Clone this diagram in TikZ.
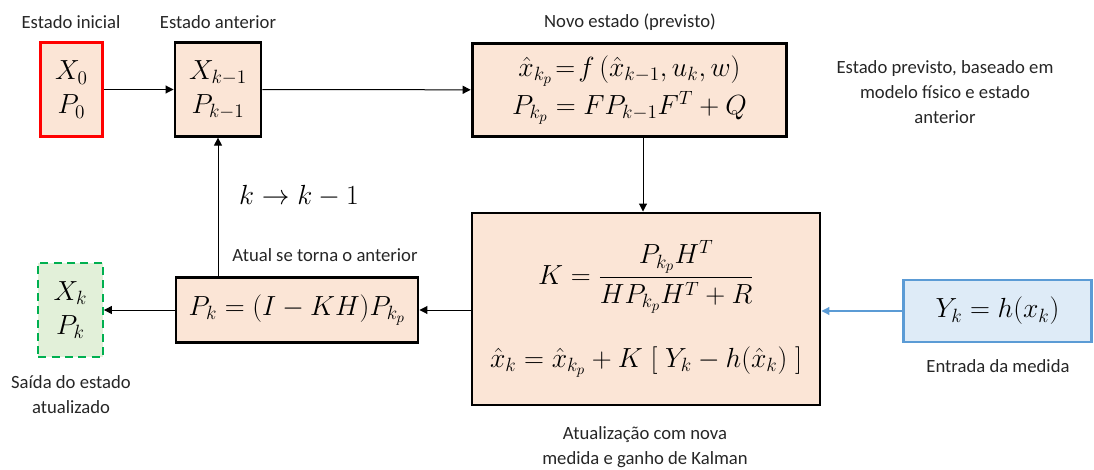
\documentclass[tikz,border=0pt]{standalone}
\usepackage{amsmath}
\usepackage[no-math]{fontspec}
\setmainfont{Carlito}
\usetikzlibrary{arrows.meta, positioning, calc}
\definecolor{boxpeach}{RGB}{251, 229, 214}
\definecolor{initred}{RGB}{255, 0, 0}
\definecolor{outgreen}{RGB}{0, 176, 80}
\definecolor{outfill}{RGB}{226, 240, 217}
\definecolor{measblue}{RGB}{91, 155, 213}
\definecolor{measfill}{RGB}{222, 235, 247}
\definecolor{labelgray}{RGB}{38, 38, 38}
\tikzset{
    statebox/.style={
        rectangle,
        draw=black,
        fill=boxpeach,
        line width=2.2pt,
        inner sep=0pt,
        align=center,
        font=\fontsize{21}{25.5}\selectfont
    },
    caption/.style={
        align=center,
        text=labelgray,
        inner sep=0pt,
        font=\fontsize{14}{18.75}\selectfont
    },
    bus/.style={
        -{Triangle[length=6pt,width=6pt]},
        line width=0.75pt
    },
    measbus/.style={
        -{Triangle[length=6pt,width=6pt]},
        draw=measblue,
        line width=0.9pt
    }
}

\begin{document}
\begin{tikzpicture}[x=0.75pt, y=-0.75pt]
    \useasboundingbox (0,0) rectangle (1094,470);
    % state boxes
    \node[statebox, draw=initred, minimum width=47pt, minimum height=70pt] (init) at (71.5,89.5) {$X_0$\\$P_0$};
    \node[statebox, minimum width=64.5pt, minimum height=70pt] (prev) at (218,89.5) {$X_{k-1}$\\$P_{k-1}$};
    \node[statebox, minimum width=236pt, minimum height=70pt, font=\fontsize{21}{28}\selectfont] (pred) at (629.5,90)
        {$\hat{x}_{k_p}\mkern2mu{=}\mkern2mu f\,(\hat{x}_{k-1},u_k,w)$\\$P_{k_p}=FP_{k-1}F^T+Q$};
    \node[statebox, minimum width=261pt, minimum height=144pt] (upd) at (646,309)
        {$K=\dfrac{P_{k_p}H^T}{HP_{k_p}H^T+R}$\\[24pt]$\hat{x}_k=\hat{x}_{k_p}+K\;[\;Y_k-h(\hat{x}_k)\;]$};
    \node[statebox, minimum width=181.5pt, minimum height=48.5pt] (post) at (297,310) {$P_k=(I-KH)P_{k_p}$};
    \node[statebox, draw=outgreen, fill=outfill, line width=1.6pt, dash pattern=on 6pt off 4pt,
        minimum width=48.5pt, minimum height=70.5pt] (out) at (70.5,310) {$X_k$\\$P_k$};
    \node[statebox, draw=measblue, fill=measfill, minimum width=141pt, minimum height=46.5pt] (meas) at (997.5,311) {$Y_k=h(x_k)$};

    % captions
    \foreach \n/\x/\y/\txt in {capinit/71/22/{Estado inicial}, capprev/218/22/{Estado anterior},
        cappred/630/22/{Novo estado (previsto)}, capnote/945/92/{Estado previsto, baseado em\\modelo físico e estado\\anterior},
        capswap/325/255/{Atual se torna o anterior}, capout/71/395/{Saída do estado\\atualizado},
        capupd/645/447/{Atualização com nova\\medida e ganho de Kalman}, capmeas/998/366/{Entrada da medida}} {
        \node[caption] (\n) at (\x,\y) {\txt};
    }
    \node[font=\fontsize{21}{24}\selectfont, inner sep=0pt] (kstep) at (299,196) {$k\rightarrow k-1$};

    % connectors
    \coordinate (vx) at (643,0);
    \draw[bus] (init) -- (prev);
    \draw[bus] (prev) -- (pred);
    \draw[bus] (pred.south -| vx) -- (upd.north -| vx);
    \draw[bus] (upd.west |- post.east) -- (post.east);
    \draw[bus] (post) -- (out);
    \draw[bus] (post.north -| prev.south) -- (prev.south);
    \draw[measbus] (meas) -- (upd.east |- meas.west);
\end{tikzpicture}
\end{document}
